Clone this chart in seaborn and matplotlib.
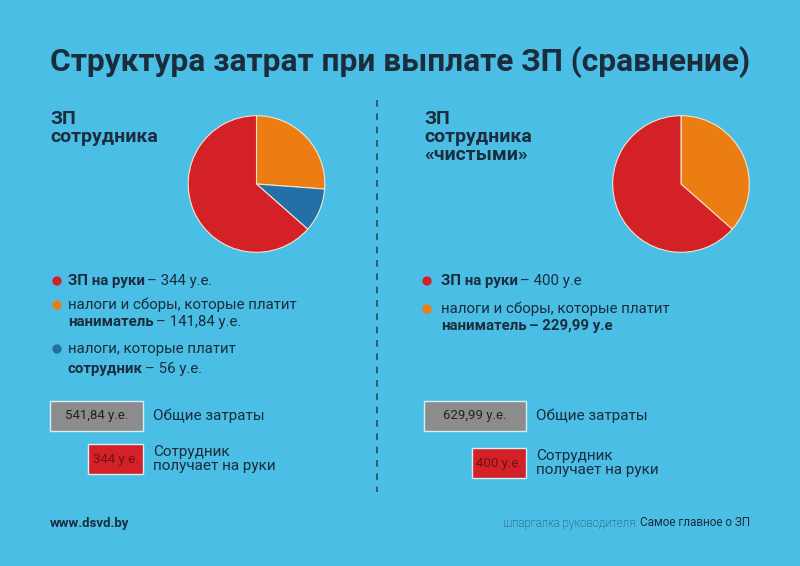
import matplotlib
matplotlib.use("Agg")
import matplotlib.pyplot as plt
from matplotlib.patches import Rectangle
import seaborn as sns

# ---- data ----
title = "Структура затрат при выплате ЗП (сравнение)"
left_head = "ЗП\nсотрудника"
right_head = "ЗП\nсотрудника\n«чистыми»"

# pie slices, clockwise from 12 o'clock
left_values = [141.84, 56, 344]
right_values = [229.99, 400]

total_labels = ["541,84 у.е.", "629,99 у.е."]
net_labels = ["344 у.е.", "400 у.е."]

# colours
bg = "#4bbee6"
red = "#d42027"
orange = "#ec7d12"
blue = "#2370a6"
gray = "#8c8c8c"
ink = "#1b2d3c"

left_colors = [orange, blue, red]
right_colors = [orange, red]

sns.set_theme(style="white")
plt.rcParams["font.family"] = ["Roboto", "DejaVu Sans"]

fig = plt.figure(figsize=(8, 5.66), dpi=100)
fig.patch.set_facecolor(bg)
ax = fig.add_axes([0, 0, 1, 1])
ax.set_xlim(0, 800)
ax.set_ylim(566, 0)
ax.axis("off")
ax.set_facecolor(bg)

renderer = fig.canvas.get_renderer()


def runs(x, y, parts, size=10.8):
    # draw text pieces of different weights one after another on one line
    for txt, weight in parts:
        t = ax.text(x, y, txt, fontsize=size, fontweight=weight, color=ink,
                    va="center", ha="left")
        w = t.get_window_extent(renderer).width
        x += w + 2
    return x


# title, fitted to the width of the picture
t = ax.text(50, 62, title, fontsize=24, fontweight="bold", color=ink,
            va="center", ha="left")
w = t.get_window_extent(renderer).width
t.set_fontsize(24 * 700 / w)

# dashed divider
ax.vlines(377, 100, 492, colors="#2c4a66", linestyles=(0, (4, 4)), lw=1.2)

# headers
ax.text(50, 110, left_head, fontsize=14, fontweight="bold", color=ink,
        va="top", ha="left", linespacing=1.0)
ax.text(424, 110, right_head, fontsize=14, fontweight="bold", color=ink,
        va="top", ha="left", linespacing=1.0)

# pies
for cx, vals, cols in [(256.5, left_values, left_colors),
                       (681, right_values, right_colors)]:
    r = 69
    pax = fig.add_axes([(cx - r) / 800, 1 - (184 + r) / 566, 2 * r / 800, 2 * r / 566])
    pax.pie(vals, colors=cols, startangle=90, counterclock=False,
            wedgeprops=dict(edgecolor="#f2e6c8", linewidth=0.8))
    pax.set_xlim(-1.01, 1.01)
    pax.set_ylim(-1.01, 1.01)
    pax.set_aspect("equal")

# legend dots
sns.scatterplot(x=[57, 57, 57, 427, 427], y=[281, 305, 349, 281, 309],
                hue=["a", "b", "c", "a", "b"],
                palette={"a": red, "b": orange, "c": blue},
                s=45, edgecolor="none", legend=False, ax=ax)

# left legend
runs(68, 281, [("ЗП на руки", "bold"), ("– 344 у.е.", "normal")])
runs(68, 305, [("налоги и сборы, которые платит", "normal")])
runs(68, 322, [("наниматель", "bold"), ("– 141,84 у.е.", "normal")])
runs(68, 349, [("налоги, которые платит", "normal")])
runs(68, 369, [("сотрудник", "bold"), ("– 56 у.е.", "normal")])

# right legend
runs(441, 281, [("ЗП на руки", "bold"), ("– 400 у.е", "normal")])
runs(441, 309, [("налоги и сборы, которые платит", "normal")])
runs(441, 326, [("наниматель", "bold"), ("– 229,99 у.е", "bold")])

# total / net boxes
boxes = [
    (50, 401, 93, 30, gray, total_labels[0], "#222222"),
    (88, 444, 55, 30, red, net_labels[0], "#6e1414"),
    (424, 401, 102, 30, gray, total_labels[1], "#222222"),
    (472, 448, 54, 30, red, net_labels[1], "#6e1414"),
]
for x0, y0, bw, bh, fc, lab, tc in boxes:
    ax.add_patch(Rectangle((x0, y0), bw, bh, facecolor=fc, edgecolor="#d6eef8", lw=1))
    ax.text(x0 + bw / 2, y0 + bh / 2, lab, fontsize=9.5, color=tc, ha="center", va="center")

for x0, y1, y2 in [(153, 416, 459), (536, 416, 463)]:
    ax.text(x0, y1, "Общие затраты", fontsize=11, color=ink, va="center", ha="left")
    ax.text(x0, y2, "Сотрудник\nполучает на руки", fontsize=11, color=ink,
            va="center", ha="left", linespacing=1.0)

# footer
ax.text(50, 523, "www.dsvd.by", fontsize=9.5, fontweight="bold", color=ink,
        va="center", ha="left")
t2 = ax.text(750, 523, "Самое главное о ЗП", fontsize=8.5, color=ink,
             va="center", ha="right")
w2 = t2.get_window_extent(renderer).width
ax.text(750 - w2 - 3, 523, "шпаргалка руководителя:", fontsize=8.3, color="#1f3445",
        fontweight="light", va="center", ha="right")

fig.savefig("out.png", dpi=100, facecolor=bg)
